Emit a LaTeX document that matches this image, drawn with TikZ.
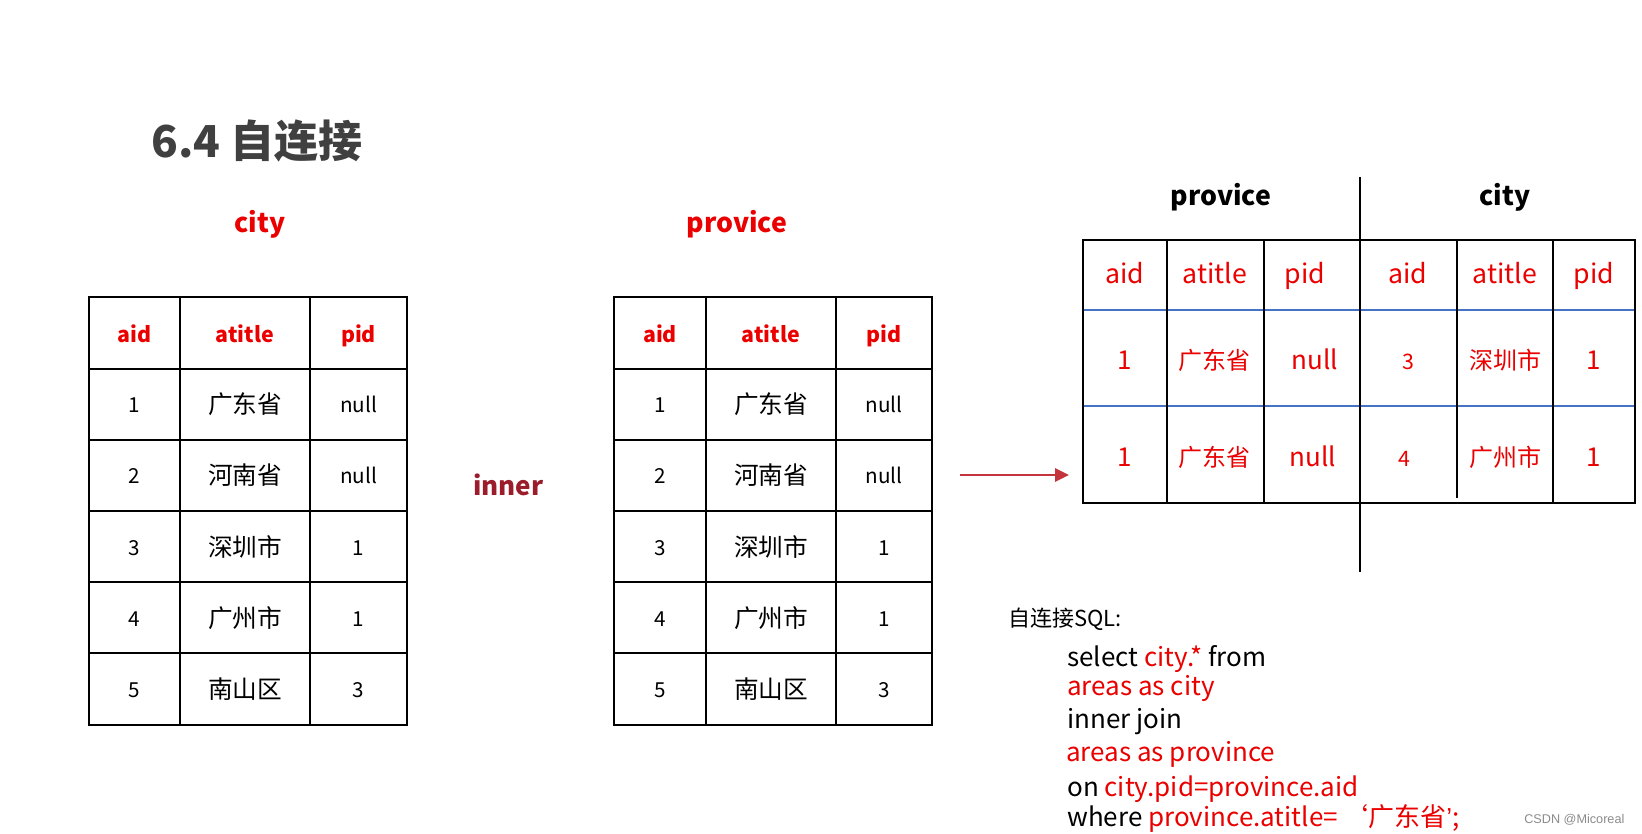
\documentclass[tikz,border=0pt]{standalone}
\usepackage{fontspec}
\setmainfont{Noto Sans CJK SC}
\newfontfamily\markfont{Liberation Sans}
\usetikzlibrary{arrows.meta}
\definecolor{titlegray}{RGB}{64,64,64}
\definecolor{cellred}{RGB}{235,0,0}
\definecolor{innerred}{RGB}{155,28,42}
\definecolor{arrowred}{RGB}{196,52,60}
\definecolor{rowblue}{RGB}{68,114,196}
\definecolor{markgray}{RGB}{140,140,140}

\begin{document}
\begin{tikzpicture}[x=0.75pt, y=-0.75pt,
    tabline/.style={line width=1.9pt, color=black},
    gridline/.style={line width=1.5pt, color=black},
    tablabel/.style={anchor=base, inner sep=0pt, font={\bfseries\fontsize{20pt}{24pt}\selectfont}},
    headcell/.style={anchor=base, inner sep=0pt, text=cellred, font={\bfseries\fontsize{16pt}{19pt}\selectfont}},
    bodycell/.style={anchor=base, inner sep=0pt, font={\fontsize{15.5pt}{18pt}\selectfont}},
    namecell/.style={anchor=base, inner sep=0pt, font={\fontsize{18.5pt}{22pt}\selectfont}},
    joinhead/.style={anchor=base, inner sep=0pt, text=cellred, font={\fontsize{20pt}{24pt}\selectfont}},
    joincell/.style={anchor=base, inner sep=0pt, text=cellred, font={\fontsize{19.5pt}{23pt}\selectfont}},
    sqlline/.style={anchor=base west, inner sep=0pt, font={\fontsize{19.5pt}{23pt}\selectfont}}]

    % page
    \fill[white] (0,0) rectangle (1642,833);
    \useasboundingbox (0,0) rectangle (1642,833);

    % constants
    \def\arearows{1/广东省/null, 2/河南省/null, 3/深圳市/1, 4/广州市/1, 5/南山区/3}

    % title
    \node[anchor=base west, inner sep=0pt, text=titlegray, font={\bfseries\fontsize{33pt}{40pt}\selectfont}] (title) at (151,157) {6.4 自连接};

    % city table
    \node[tablabel, text=cellred] (citylabel) at (260,232) {city};
    \draw[tabline] (89,297) rectangle (407,725);
    \foreach \y in {369,440,511,582,653} \draw[tabline] (89,\y) -- (407,\y);
    \draw[tabline] (180,297) -- (180,725);
    \draw[tabline] (310,297) -- (310,725);

    \node[headcell] (city-0-1) at (134.5,342) {aid};
    \node[headcell] (city-0-2) at (245,342) {atitle};
    \node[headcell] (city-0-3) at (358.5,342) {pid};
    \foreach \r/\t/\p in \arearows {
        \node[bodycell] (city-\r-1) at (134.5,{341.5+71.2*\r}) {\r};
        \node[namecell] (city-\r-2) at (245,{342.5+71.2*\r}) {\t};
        \node[bodycell] (city-\r-3) at (358.5,{341.5+71.2*\r}) {\p};
    }

    % inner
    \node[anchor=base west, inner sep=0pt, text=innerred, font={\bfseries\fontsize{19.5pt}{23pt}\selectfont}] (inner) at (473,495) {inner};

    % provice table
    \node[tablabel, text=cellred] (provlabel) at (737,232) {provice};
    \draw[tabline] (614,297) rectangle (932,725);
    \foreach \y in {369,440,511,582,653} \draw[tabline] (614,\y) -- (932,\y);
    \draw[tabline] (706,297) -- (706,725);
    \draw[tabline] (836,297) -- (836,725);

    \node[headcell] (prov-0-1) at (660,342) {aid};
    \node[headcell] (prov-0-2) at (771,342) {atitle};
    \node[headcell] (prov-0-3) at (884,342) {pid};
    \foreach \r/\t/\p in \arearows {
        \node[bodycell] (prov-\r-1) at (660,{341.5+71.2*\r}) {\r};
        \node[namecell] (prov-\r-2) at (771,{342.5+71.2*\r}) {\t};
        \node[bodycell] (prov-\r-3) at (884,{341.5+71.2*\r}) {\p};
    }

    % arrow to result
    \coordinate (arrowtail) at (960,475);
    \coordinate (arrowhead) at (1069,475);
    \draw[arrowred, line width=1.5pt, -{Triangle[length=10.5pt, width=10pt]}] (arrowtail) -- (arrowhead);

    % joined table
    \node[tablabel, text=black] (joinprov) at (1221,205) {provice};
    \node[tablabel, text=black] (joincity) at (1505,205) {city};

    \draw[rowblue, line width=1.5pt] (1083,310) -- (1635,310);
    \draw[rowblue, line width=1.5pt] (1083,406) -- (1635,406);
    \draw[tabline] (1083,240) rectangle (1635,503);
    \draw[gridline] (1167,240) -- (1167,503);
    \draw[gridline] (1264,240) -- (1264,503);
    \draw[gridline] (1457,240) -- (1457,498);
    \draw[gridline] (1553,240) -- (1553,503);
    \draw[tabline] (1360,177) -- (1360,572);

    \node[joinhead] (join-0-1) at (1125,283) {aid};
    \node[joinhead] (join-0-2) at (1215,283) {atitle};
    \node[joinhead] (join-0-3) at (1305,283) {pid};
    \node[joinhead] (join-0-4) at (1408,283) {aid};
    \node[joinhead] (join-0-5) at (1505,283) {atitle};
    \node[joinhead] (join-0-6) at (1594,283) {pid};

    \node[joincell] (join-1-1) at (1125,369) {1};
    \node[joincell, font={\fontsize{18pt}{22pt}\selectfont}] (join-1-2) at (1214,369) {广东省};
    \node[joincell] (join-1-3) at (1315,369) {null};
    \node[joincell, font={\fontsize{16pt}{19pt}\selectfont}] (join-1-4) at (1408,369) {3};
    \node[joincell, font={\fontsize{18pt}{22pt}\selectfont}] (join-1-5) at (1505,369) {深圳市};
    \node[joincell] (join-1-6) at (1594,369) {1};

    \node[joincell] (join-2-1) at (1125,466) {1};
    \node[joincell, font={\fontsize{18pt}{22pt}\selectfont}] (join-2-2) at (1214,466) {广东省};
    \node[joincell] (join-2-3) at (1313,466) {null};
    \node[joincell, font={\fontsize{16pt}{19pt}\selectfont}] (join-2-4) at (1404,466) {4};
    \node[joincell, font={\fontsize{18pt}{22pt}\selectfont}] (join-2-5) at (1505,466) {广州市};
    \node[joincell] (join-2-6) at (1594,466) {1};

    % sql
    \node[sqlline, font={\fontsize{16.5pt}{20pt}\selectfont}] (sqlhead) at (1008,626) {自连接SQL:};
    \node[sqlline] (sql1) at (1067,666) {select \textcolor{cellred}{city.*} from};
    \node[sqlline, text=cellred] (sql2) at (1067,695) {areas as city};
    \node[sqlline] (sql3) at (1067,728) {inner join};
    \node[sqlline, text=cellred] (sql4) at (1066,761) {areas as province};
    \node[sqlline] (sql5) at (1067,796) {on \textcolor{cellred}{city.pid=province.aid}};
    \node[sqlline] (sql6) at (1067,826) {where \textcolor{cellred}{province.atitle=\,‘广东省{\markfont ’};}};

    % watermark
    \node[anchor=base west, inner sep=0pt, text=markgray, font={\markfont\fontsize{9.5pt}{11pt}\selectfont}] (mark) at (1524,823) {CSDN @Micoreal};

\end{tikzpicture}
\end{document}
